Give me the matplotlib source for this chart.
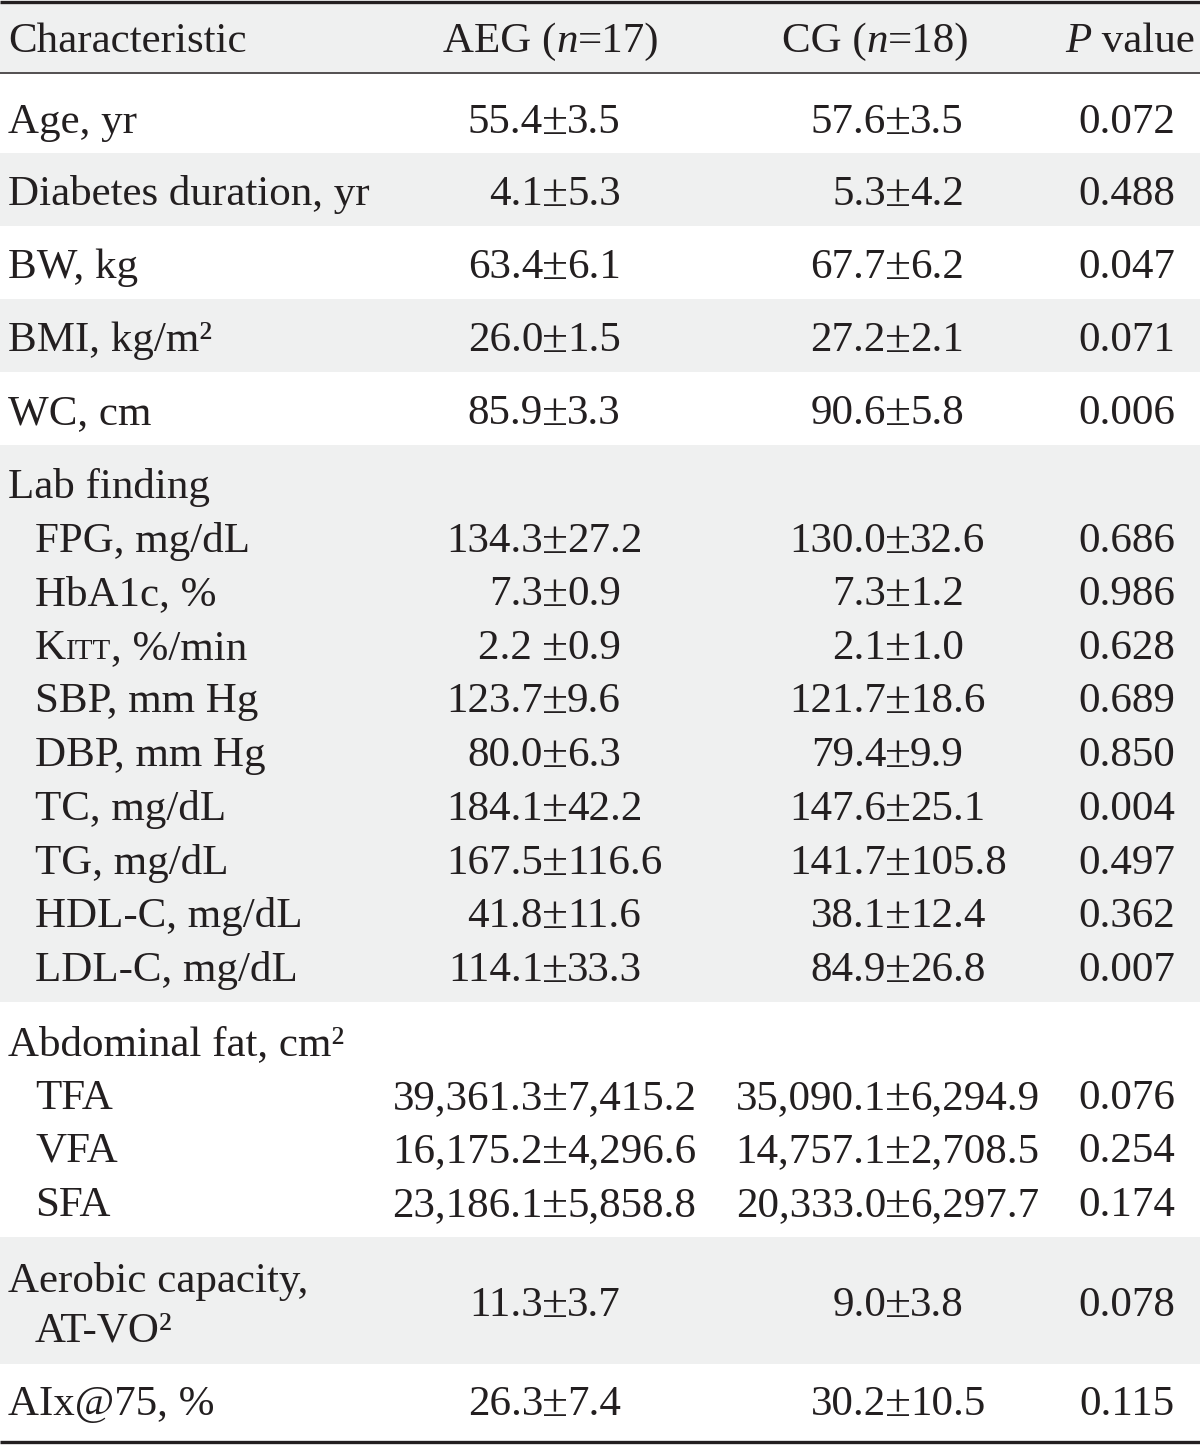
import matplotlib
matplotlib.use("Agg")
import matplotlib.pyplot as plt
from matplotlib.patches import Rectangle

plt.rcParams['font.family'] = ['Liberation Serif', 'DejaVu Serif']

# table content
headers = ["Characteristic", "AEG", "17", "CG", "18", "value"]
labels = ["Age, yr", "Diabetes duration, yr", "BW, kg", "BMI, kg/m²", "WC, cm",
          "Lab finding",
          "FPG, mg/dL", "HbA1c, %", "KITT, %/min", "SBP, mm Hg", "DBP, mm Hg",
          "TC, mg/dL", "TG, mg/dL", "HDL-C, mg/dL", "LDL-C, mg/dL",
          "Abdominal fat, cm²",
          "TFA", "VFA", "SFA",
          "Aerobic capacity,|AT-VO²",
          "AIx@75, %"]
indent = [0, 0, 0, 0, 0, 0, 1, 1, 1, 1, 1, 1, 1, 1, 1, 0, 1, 1, 1, 0, 0]
aeg_mean = ["55.4", "4.1", "63.4", "26.0", "85.9", None,
            "134.3", "7.3", "2.2 ", "123.7", "80.0", "184.1", "167.5", "41.8", "114.1",
            None, "39,361.3", "16,175.2", "23,186.1", "11.3", "26.3"]
aeg_sd = ["3.5", "5.3", "6.1", "1.5", "3.3", None,
          "27.2", "0.9", "0.9", "9.6", "6.3", "42.2", "116.6", "11.6", "33.3",
          None, "7,415.2", "4,296.6", "5,858.8", "3.7", "7.4"]
cg_mean = ["57.6", "5.3", "67.7", "27.2", "90.6", None,
           "130.0", "7.3", "2.1", "121.7", "79.4", "147.6", "141.7", "38.1", "84.9",
           None, "35,090.1", "14,757.1", "20,333.0", "9.0", "30.2"]
cg_sd = ["3.5", "4.2", "6.2", "2.1", "5.8", None,
         "32.6", "1.2", "1.0", "18.6", "9.9", "25.1", "105.8", "12.4", "26.8",
         None, "6,294.9", "2,708.5", "6,297.7", "3.8", "10.5"]
p_values = ["0.072", "0.488", "0.047", "0.071", "0.006", None,
            "0.686", "0.986", "0.628", "0.689", "0.850", "0.004", "0.497", "0.362", "0.007",
            None, "0.076", "0.254", "0.174", "0.078", "0.115"]

# layout (pixels)
W, H = 1200, 1446
FS = 31
INK = '#231f20'
SHADE = '#eff0f0'
baselines = [133, 205, 278, 351, 424, 498, 552, 605, 659, 712, 766, 820, 874,
             927, 981, 1055, 1109, 1162, 1216, 1316, 1415]
bands = [(3, 72), (153, 226), (299, 372), (445, 1002), (1237, 1364)]
x_label, x_indent = 8, 35
pm_aeg, pm_cg, x_p = 555, 898, 1127

fig = plt.figure(figsize=(W / 100, H / 100), dpi=100)
ax = fig.add_axes([0, 0, 1, 1])
ax.set_xlim(0, W)
ax.set_ylim(H, 0)
ax.axis('off')
renderer = fig.canvas.get_renderer()

for y0, y1 in bands:
    ax.add_patch(Rectangle((0, y0), W, y1 - y0, color=SHADE, lw=0))

ax.plot([0, W], [1.5, 1.5], color=INK, lw=2.4, solid_capstyle='butt')
ax.plot([0, W], [73, 73], color=INK, lw=1.1, solid_capstyle='butt')
ax.plot([0, W], [1442, 1442], color=INK, lw=2.4, solid_capstyle='butt')


def txt(x, y, s, ha='left', **kw):
    return ax.text(x, y, s, ha=ha, va='baseline', fontsize=kw.pop('fontsize', FS),
                   color=INK, **kw)


def runs(x, y, parts, align='left'):
    items = [txt(0, y, s, **kw) for s, kw in parts]
    widths = [t.get_window_extent(renderer).width for t in items]
    start = x - sum(widths) / 2 if align == 'center' else x
    for t, w in zip(items, widths):
        t.set_x(start)
        start += w


# header
txt(x_label, 52, headers[0])
runs(551, 52, [(headers[1] + " (", {}), ("n", {'style': 'italic'}), ("=" + headers[2] + ")", {})],
     align='center')
runs(876, 52, [(headers[3] + " (", {}), ("n", {'style': 'italic'}), ("=" + headers[4] + ")", {})],
     align='center')
runs(1130, 52, [("P", {'style': 'italic'}), (" " + headers[5], {})], align='center')

# body
for i, lab in enumerate(labels):
    y = baselines[i]
    x = x_indent if indent[i] else x_label
    if lab.startswith("KITT"):
        runs(x, y, [("K", {}), ("ITT", {'fontsize': FS * 0.68}), (lab[4:], {})])
    elif "|" in lab:
        first, second = lab.split("|")
        txt(x_label, y - 24, first)
        txt(x_indent, y + 25, second)
    else:
        txt(x, y, lab)
    if p_values[i] is None:
        continue
    for pm, m, s in [(pm_aeg, aeg_mean[i], aeg_sd[i]), (pm_cg, cg_mean[i], cg_sd[i])]:
        txt(pm - 12, y, m, ha='right')
        txt(pm, y + 1, "±", ha='center', fontsize=FS * 1.1)
        txt(pm + 12, y, s, ha='left')
    txt(x_p, y, p_values[i], ha='center')

fig.savefig("out.png", dpi=100)
